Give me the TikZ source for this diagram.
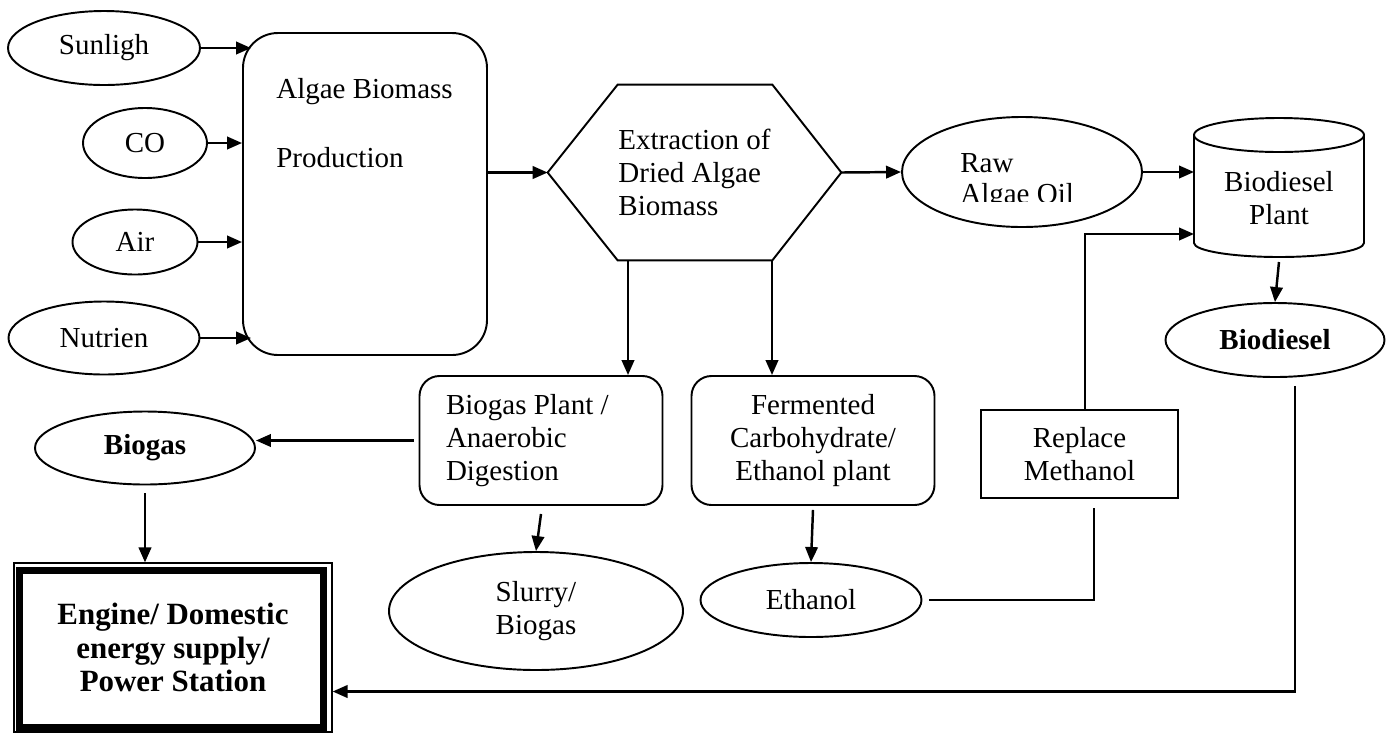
\documentclass[tikz,border=0pt]{standalone}
\usepackage{fontspec}
\setmainfont{Liberation Serif}
\usetikzlibrary{arrows, arrows.meta}
\usetikzlibrary{calc}
\usetikzlibrary{shapes.geometric}

\tikzset{
  oval/.style={ellipse, draw, line width=1.1pt, inner sep=2pt, align=center},
  rbox/.style={rectangle, rounded corners=0.4cm, draw, line width=1.1pt, minimum width=4.86cm, minimum height=2.58cm},
  arr/.style={-{Triangle[length=0.3cm, width=0.25cm]}, line width=1.4pt},
  outline/.style={line width=1.1pt}
}

\begin{document}
\begin{tikzpicture}[font=\fontsize{16.5}{19}\selectfont]
    \useasboundingbox (0,0) rectangle (27.9,-14.68);

    \node[oval, minimum width=3.84cm, minimum height=1.48cm] (sun) at (2.08,-0.96) {Sunligh};
    \node[oval, minimum width=2.48cm, minimum height=1.4cm] (co) at (2.9,-2.86) {CO};
    \node[oval, minimum width=2.5cm, minimum height=1.3cm] (air) at (2.7,-4.84) {Air};
    \node[oval, minimum width=3.82cm, minimum height=1.46cm] (nut) at (2.08,-6.76) {Nutrien};

    \node[draw, outline, rounded corners=0.7cm, minimum width=4.88cm, minimum height=6.44cm] (alg) at (7.3,-3.88) {};
    \node[anchor=north west, inner sep=0pt, align=left, font=\fontsize{16.5}{39}\selectfont] (algtxt) at (5.52,-1.56) {Algae Biomass\\Production};

    \node[minimum width=5.86cm, minimum height=3.5cm, inner sep=0pt, align=left] (ext) at (13.89,-3.45) {Extraction of\\Dried Algae\\Biomass};
    \draw[outline] (ext.west) -- ([xshift=1.4cm]ext.north west) -- ([xshift=-1.38cm]ext.north east) -- (ext.east) -- ([xshift=-1.38cm]ext.south east) -- ([xshift=1.4cm]ext.south west) -- cycle;

    \node[oval, minimum width=4.8cm, minimum height=2.2cm] (raw) at (20.44,-3.44) {};
    \begin{scope}
      \clip (18.9,-2.6) rectangle (22.4,-4.02);
      \node[anchor=north west, inner sep=0pt, align=left, font=\fontsize{16.5}{17.7}\selectfont] (rawtxt) at (19.2,-3.06) {Raw\\Algae Oil};
    \end{scope}

    \node[align=center] (plant) at (25.58,-3.96) {Biodiesel\\Plant};
    \draw[outline] ([yshift=1.26cm]plant.center) ellipse [x radius=1.7cm, y radius=0.34cm];
    \draw[outline] ([shift={(-1.7cm,1.26cm)}]plant.center) -- ([shift={(-1.7cm,-0.9cm)}]plant.center) arc[start angle=180, end angle=360, x radius=1.7cm, y radius=0.28cm] -- ([shift={(1.7cm,1.26cm)}]plant.center);
    \coordinate (plantW) at ([xshift=-1.7cm]plant.center);
    \coordinate (plantS) at ([yshift=-1.28cm]plant.center);
    \coordinate (metin) at (23.88,-4.68);

    \node[oval, minimum width=4.38cm, minimum height=1.48cm, font=\fontsize{16.5}{19}\selectfont\bfseries] (bdsl) at (25.5,-6.8) {Biodiesel};

    \node[rbox, text width=3.8cm, align=flush left] (bgp) at (10.82,-8.81) {Biogas Plant /\\Anaerobic\\Digestion};
    \node[rbox, align=center] (fer) at (16.26,-8.81) {Fermented\\Carbohydrate/\\Ethanol plant};
    \node[draw, outline, minimum width=3.94cm, minimum height=1.76cm, align=center] (rep) at (21.59,-9.08) {Replace\\Methanol};

    \node[oval, minimum width=4.4cm, minimum height=1.46cm, font=\fontsize{16.5}{19}\selectfont\bfseries] (bgas) at (2.9,-8.96) {Biogas};
    \node[oval, minimum width=5.88cm, minimum height=2.36cm] (slu) at (10.72,-12.22) {Slurry/\\Biogas};
    \node[oval, minimum width=4.42cm, minimum height=1.48cm] (eth) at (16.22,-12.0) {Ethanol};

    \node[draw, line width=0.7pt, minimum width=6.36cm, minimum height=3.38cm, align=center, font=\fontsize{17.6}{19}\selectfont\bfseries] (eng) at (3.46,-12.95) {Engine/ Domestic\\energy supply/\\Power Station};
    \draw[line width=3.6pt] ([shift={(0.12,-0.16)}]eng.north west) rectangle ([shift={(-0.18,0.1)}]eng.south east);

    \draw[arr] (sun.east) -- ([xshift=0.18cm]sun.east -| alg.west);
    \draw[arr] (co.east) -- (co.east -| alg.west);
    \draw[arr] (air.east) -- (air.east -| alg.west);
    \draw[arr] (nut.east) -- ([xshift=0.18cm]nut.east -| alg.west);
    \draw[arr] (alg.east |- ext.west) -- (ext.west);
    \draw[arr] (ext.east) -- (raw.west);
    \draw[arr] (raw.east) -- (raw.east -| plantW);
    \draw[arr] (plantS) -- (bdsl.north);
    \draw[arr] ([xshift=-1.33cm]ext.south) -- ([xshift=-1.33cm]ext.south |- bgp.north);
    \draw[arr] ([xshift=1.55cm]ext.south) -- ([xshift=1.55cm]ext.south |- fer.north);
    \draw[arr] ([xshift=-0.1cm]bgp.west) -- (bgp.west -| bgas.east);
    \draw[arr] ([yshift=-0.16cm]bgas.south) -- (bgas.south |- eng.north);
    \draw[arr] ([yshift=-0.16cm]bgp.south) -- (slu.north);
    \draw[arr] ([yshift=-0.08cm]fer.south) -- (eth.north);
    \draw[line width=1pt] ([xshift=0.14cm]eth.east) -| ([shift={(0.29cm,-0.18cm)}]rep.south);
    \draw[arr] ([xshift=0.11cm]rep.north) |- (metin);
    \draw[arr] ([shift={(0.4cm,-0.16cm)}]bdsl.south) |- ([yshift=-0.88cm]eng.east);
  \end{tikzpicture}
\end{document}
